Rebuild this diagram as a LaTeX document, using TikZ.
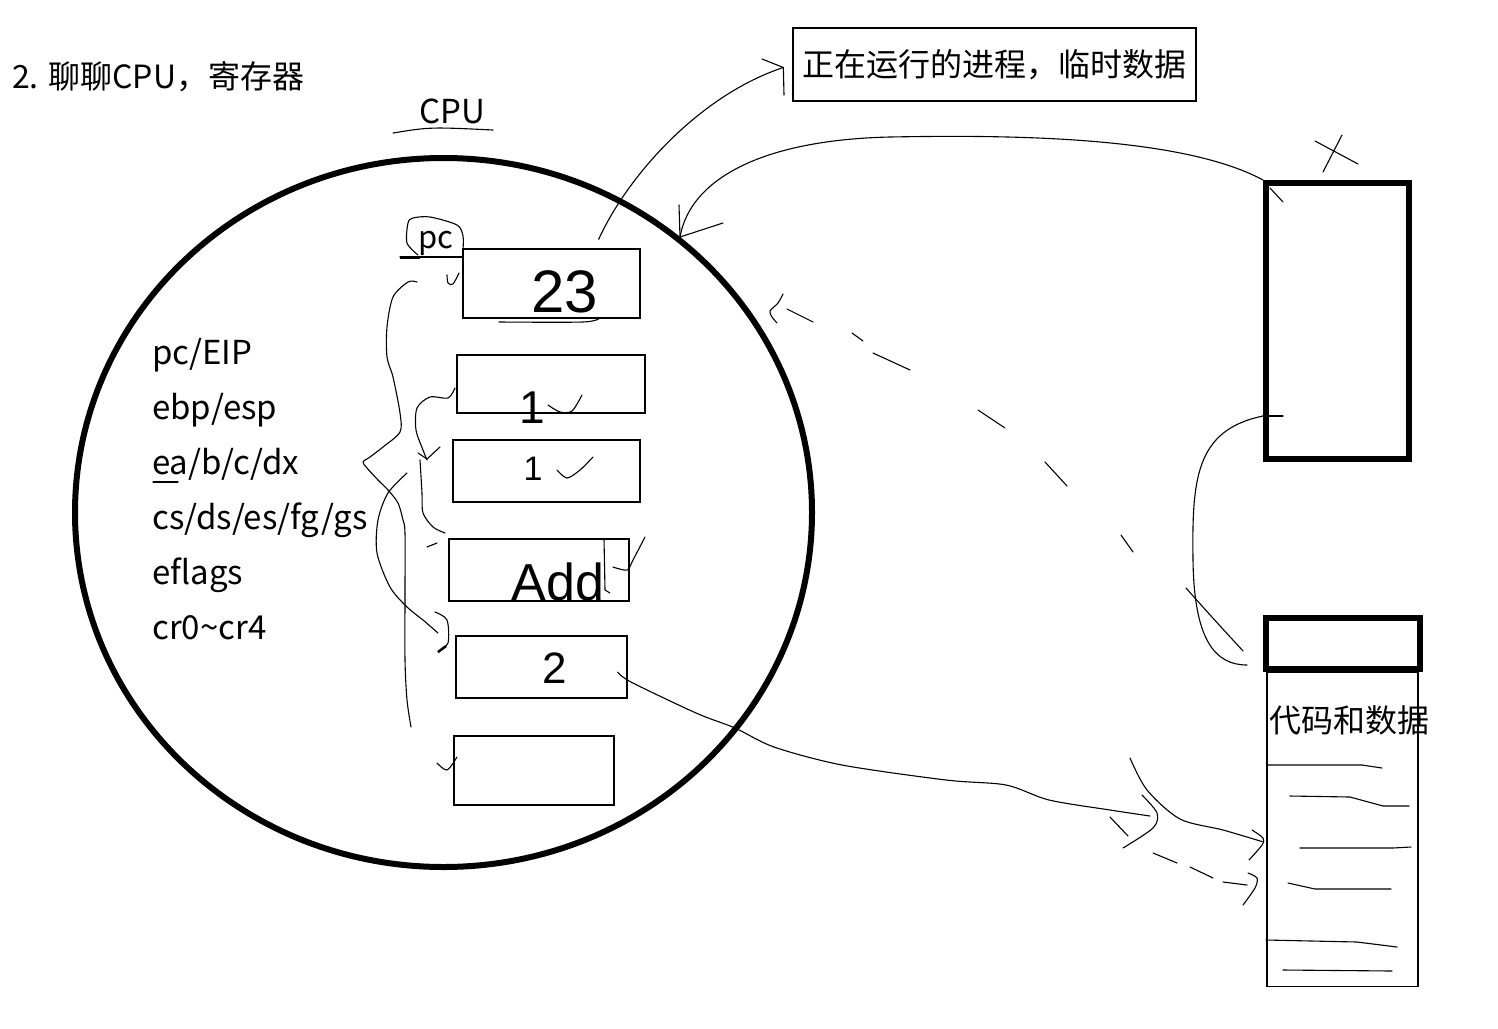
\documentclass[tikz,border=0pt]{standalone}
\usepackage{fontspec}
\setmainfont{Noto Sans CJK SC}
\newfontfamily\handfont{Liberation Sans}
\usetikzlibrary{positioning,shapes.geometric,calc}

\begin{document}
\begin{tikzpicture}[x=1pt, y=-1pt, font=\fontsize{33}{38}\selectfont,
  reg/.style={draw, line width=1.3pt, inner sep=0pt},
  mem/.style={draw, line width=6pt, inner sep=0pt},
  ink/.style={line width=1.1pt, line cap=round, line join=round},
  hand/.style={font=\handfont\fontsize{#1}{#1}\selectfont, inner sep=0pt},
  lab/.style={anchor=base west, inner sep=0pt}]
\useasboundingbox (0,0) rectangle (1498,1028);

% title and cpu
\node[lab, font=\fontsize{32}{36}\selectfont] (title) at (12,88) {2. 聊聊CPU，寄存器};
\node[lab] (cpu) at (419,123) {CPU};
\draw[ink] (393,133) .. controls (430,127) .. (493,130);

% the cpu core with its registers
\node[draw, ellipse, line width=6pt, minimum width=737pt, minimum height=709pt, inner sep=0pt] (core) at (443.5,512.5) {};
\foreach \t [count=\i] in {pc/EIP, ebp/esp, ea/b/c/dx, cs/ds/es/fg/gs, eflags, cr0\textasciitilde cr4}
  \node[lab] (k\i) at (152, 309+55*\i) {\t};
\draw[ink] (153,482) -- (178,482);

\foreach \n/\cx/\cy/\w/\h in {1/551.5/283.5/177/69, 2/551/384/188/58, 3/546.5/471/187/62,
    4/539/570/180/62, 5/541.5/667/171/62, 6/534/770.5/160/69}
  \node[reg, minimum width=\w pt, minimum height=\h pt] (r\n) at (\cx,\cy) {};
\node[hand=60] (v1) at (565,292) {23};
\node[hand=46] (v2) at (532,408) {1};
\node[hand=34] (v3) at (533,469) {1};
\node[hand=52] (v4) at (558,582) {Add};
\node[hand=44] (v5) at (555,668) {2};
\draw[ink] plot[smooth] coordinates {(499,322) (583,322) (600,318)};
\draw[ink] plot[smooth] coordinates {(548,405) (560,412) (572,411) (582,395)};
\draw[ink] plot[smooth] coordinates {(557,470) (567,478) (580,470) (593,457)};
\draw[ink] (604,539) -- (605,590) -- (610,593);
\draw[ink] plot[smooth] coordinates {(613,567) (627,570) (633,560) (645,537)};

% pc tag
\node[lab, font=\fontsize{31}{36}\selectfont] (pc) at (418,248) {pc};
\draw[ink] plot[smooth] coordinates {(418,255) (407,243) (408,223) (413,218) (430,217) (457,225) (463,236) (463,249)};
\draw[ink] (r1.north west |- 0,257) -- (400,257);
\draw[line width=3pt] (400,257) -- (420,257);

% scribbles left of the registers
\draw[ink] plot[smooth] coordinates {(417,282) (408,282) (393,297) (387,327) (387,357) (393,377) (400,413) (400,432)
  (383,447) (370,457) (363,462) (367,468) (378,480) (388,490) (398,503) (403,520) (405,533) (405,593) (405,660) (407,700) (411,727)};
\draw[ink] plot[smooth] coordinates {(407,473) (388,493) (378,520) (377,553) (390,587) (407,607) (423,620) (438,633)};
\draw[ink] plot[smooth] coordinates {(435,612) (447,620) (448,643) (438,652)};
\draw[line width=2.5pt] (438,652) -- (446,646);
\draw[ink] plot[smooth] coordinates {(455,388) (448,398) (430,397) (417,408) (416,430) (423,450) (427,460)};
\draw[ink] plot[smooth] coordinates {(420,460) (422,493) (423,513) (433,527) (445,533)};
\draw[ink] (418,453) -- (427,459) -- (440,447);
\draw[ink] (427,547) -- (437,543);
\draw[ink] plot[smooth] coordinates {(447,275) (448,283) (453,284) (459,273)};
\draw[ink] plot[smooth] coordinates {(437,763) (447,770) (457,757)};

% memory side
\node[draw, line width=1.3pt, minimum width=403pt, minimum height=73pt, font=\fontsize{32}{36}\selectfont] (run) at (994.5,64.5) {正在运行的进程，临时数据};
\node[mem, minimum width=143pt, minimum height=276pt] (stack) at (1337.5,321) {};
\node[mem, minimum width=154pt, minimum height=51pt] (seg) at (1343,643.5) {};
\node[reg, minimum width=151pt, minimum height=314pt, anchor=north] (code) at (1342.5,672) {};
\node[font=\fontsize{32}{36}\selectfont, inner sep=0pt] (codelab) at (1349,720) {代码和数据};
\draw[ink] (1267,765) -- (1362,765) -- (1382,768);
\draw[ink] (1290,796) -- (1350,797) -- (1383,806) -- (1409,806);
\draw[ink] (1300,848) -- (1393,848) -- (1411,847);
\draw[ink] (1288,883) -- (1315,889) -- (1391,889);
\draw[ink] (1266,940) -- (1357,942) -- (1397,947);
\draw[ink] (1283,970) -- (1392,971);
\draw[ink] (1315,141) -- (1358,164) (1342,135) -- (1323,172);

% register 1 up to the running process
\coordinate (s1) at ($(r1.north east)+(-42,-9)$);
\coordinate (tip1) at ($(run.west)+(-9,3)$);
\draw[ink] (s1) .. controls (628,175) and (700,95) .. (tip1);
\draw[ink] (762,59) -- (tip1) -- (784,95);

% stack back into the core
\coordinate (tip2) at (680,237);
\draw[ink] (stack.north west) .. controls (1180,135) and (1000,135) .. (890,137) .. controls (760,140) and (690,180) .. (tip2);
\draw[ink] (679,205) -- (tip2) -- (723,223);
\draw[ink] (1270,188) -- (1283,202);

% dashed return
\draw[ink] (1121,535) -- (1133,552) (1045,462) -- (1067,486) (978,410) -- (1005,428)
  (873,353) -- (910,370) (852,333) -- (863,341) (787,309) -- (813,322);
\draw[ink] plot[smooth] coordinates {(783,294) (778,303) (770,311) (772,317) (777,323)};

% stack down to the segment
\coordinate (s4) at ($(stack.south west)+(0,-46)$);
\draw[ink] (s4) -- ++(20,0);
\draw[ink] (s4) .. controls (1195,430) and (1192,480) .. (1193,560) .. controls (1194,640) and (1215,665) .. (1247,665);
\draw[ink] (1186,588) .. controls (1210,615) .. (1243,651);

% register 2 out to code and data
\coordinate (s5) at ($(r5.east)+(-10,5)$);
\draw[ink] plot[smooth] coordinates {(s5) (631,682) (696,713) (735,728) (774,747) (842,765) (946,780) (1006,785) (1049,800) (1110,810) (1150,816)};
\draw[ink] plot[smooth] coordinates {(1142,795) (1157,813) (1153,828) (1123,848)};
\draw[ink] (1110,817) -- (1128,836);
\coordinate (tip6) at ($(code.west)+(-4,12)$);
\draw[ink] plot[smooth] coordinates {(1130,758) (1147,790) (1180,819) (1223,830) (tip6)};
\draw[ink] plot[smooth] coordinates {(1252,830) (1263,838) (1262,845) (1249,860)};
\draw[ink] (1153,853) -- (1177,863) (1190,867) -- (1213,878) (1223,882) -- (1247,885);
\draw[ink] plot[smooth] coordinates {(1248,873) (1257,878) (1255,888) (1243,905)};
\end{tikzpicture}
\end{document}
